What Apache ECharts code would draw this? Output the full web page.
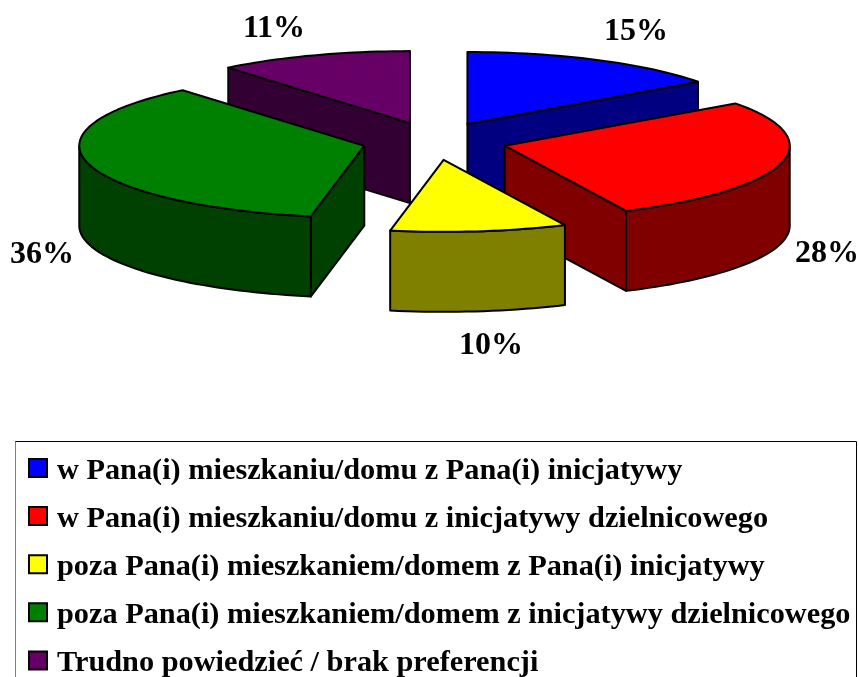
<!DOCTYPE html>
<html><head><meta charset="utf-8">
<style>html,body{margin:0;padding:0;background:#fff;overflow:hidden}#c{width:859px;height:677px}</style>
<script src="https://cdn.jsdelivr.net/npm/echarts@6/dist/echarts.min.js"></script>
</head><body><div id="c"></div>
<script>
const categories = [
  'w Pana(i) mieszkaniu/domu z Pana(i) inicjatywy',
  'w Pana(i) mieszkaniu/domu z inicjatywy dzielnicowego',
  'poza Pana(i) mieszkaniem/domem z Pana(i) inicjatywy',
  'poza Pana(i) mieszkaniem/domem z inicjatywy dzielnicowego',
  'Trudno powiedzieć / brak preferencji'
];
const values = [15, 28, 10, 36, 11];
const topColors = ['#0000ff', '#ff0000', '#ffff00', '#008000', '#660066'];
const sideColors = ['#000080', '#800000', '#808000', '#004000', '#330033'];
// back-to-front painting order of the slices
const drawOrder = [4, 0, 3, 1, 2];
// centres of the percentage labels
const labelCentres = [[636, 32], [827, 254], [491, 346], [42, 255], [274, 29]];

const geo = { cx: 434.5, cy: 141, rx: 285, ry: 72, depth: 80, ex: 72.5, ey: 19 };
const total = values.reduce((a, b) => a + b, 0);
const startAngles = [];
values.reduce((acc, v, i) => { startAngles[i] = acc; return acc + v / total * 2 * Math.PI; }, 0);

function arc(apex, a0, a1, dy) {
  const pts = [], n = Math.max(2, Math.ceil((a1 - a0) / 0.03));
  for (let k = 0; k <= n; k++) {
    const a = a0 + (a1 - a0) * k / n;
    pts.push([apex[0] + geo.rx * Math.sin(a), apex[1] - geo.ry * Math.cos(a) + dy]);
  }
  return pts;
}
function sliceRenderer(i) {
  return function (params, api) {
    const v = api.value(0);
    const a0 = startAngles[i], a1 = a0 + v / total * 2 * Math.PI, mid = (a0 + a1) / 2;
    const apex = [geo.cx + geo.ex * Math.sin(mid), geo.cy - geo.ey * Math.cos(mid)];
    const line = { stroke: '#000', lineWidth: 2, lineJoin: 'round' };
    const poly = (pts, fill) => ({ type: 'polygon', shape: { points: pts }, style: Object.assign({ fill }, line) });
    const children = [];
    const wallTo = a => {
      const e = arc(apex, a, a, 0)[0];
      return [apex, e, [e[0], e[1] + geo.depth], [apex[0], apex[1] + geo.depth]];
    };
    if (Math.sin(a0) < -1e-6) children.push(poly(wallTo(a0), sideColors[i]));
    if (Math.sin(a1) > 1e-6) children.push(poly(wallTo(a1), sideColors[i]));
    const f0 = Math.max(a0, Math.PI / 2), f1 = Math.min(a1, 1.5 * Math.PI);
    if (f1 > f0) {
      const upper = arc(apex, f0, f1, 0), lower = arc(apex, f0, f1, geo.depth).reverse();
      children.push(poly(upper.concat(lower), sideColors[i]));
    }
    children.push(poly([apex].concat(arc(apex, a0, a1, 0)), topColors[i]));
    children.push({
      type: 'text',
      style: {
        text: v + '%', x: labelCentres[i][0], y: labelCentres[i][1],
        align: 'center', verticalAlign: 'middle', fill: '#000',
        font: 'bold 32px "Liberation Serif"'
      }
    });
    return { type: 'group', children };
  };
}

const chart = echarts.init(document.getElementById('c'), null, { renderer: 'canvas' });
chart.setOption({
  animation: false,
  backgroundColor: '#fff',
  graphic: [
    { type: 'rect', z: -1, shape: { x: 15.5, y: 441.5, width: 841, height: 300 },
      style: { fill: '#fff', stroke: '#000', lineWidth: 1 } },
    { type: 'line', z: -1, shape: { x1: 15.5, y1: 442, x2: 15.5, y2: 677 },
      style: { stroke: '#808080', lineWidth: 1 } }
  ],
  legend: {
    orient: 'vertical', left: 28, top: 450, height: 400, padding: 0,
    data: categories, selectedMode: false,
    icon: 'rect', itemWidth: 18, itemHeight: 18, itemGap: 12.1,
    itemStyle: { borderColor: '#000', borderWidth: 2 },
    formatter: '{t|{name}}',
    textStyle: {
      padding: [0, 0, 0, 5],
      rich: { t: { fontFamily: 'Liberation Serif', fontWeight: 'bold', fontSize: 30.3, color: '#000', lineHeight: 34, padding: [6, 0, 0, 0] } }
    }
  },
  series: drawOrder.map(i => ({
    type: 'custom', coordinateSystem: 'none', name: categories[i],
    itemStyle: { color: topColors[i] },
    renderItem: sliceRenderer(i),
    data: [[values[i]]]
  }))
});
</script></body></html>
